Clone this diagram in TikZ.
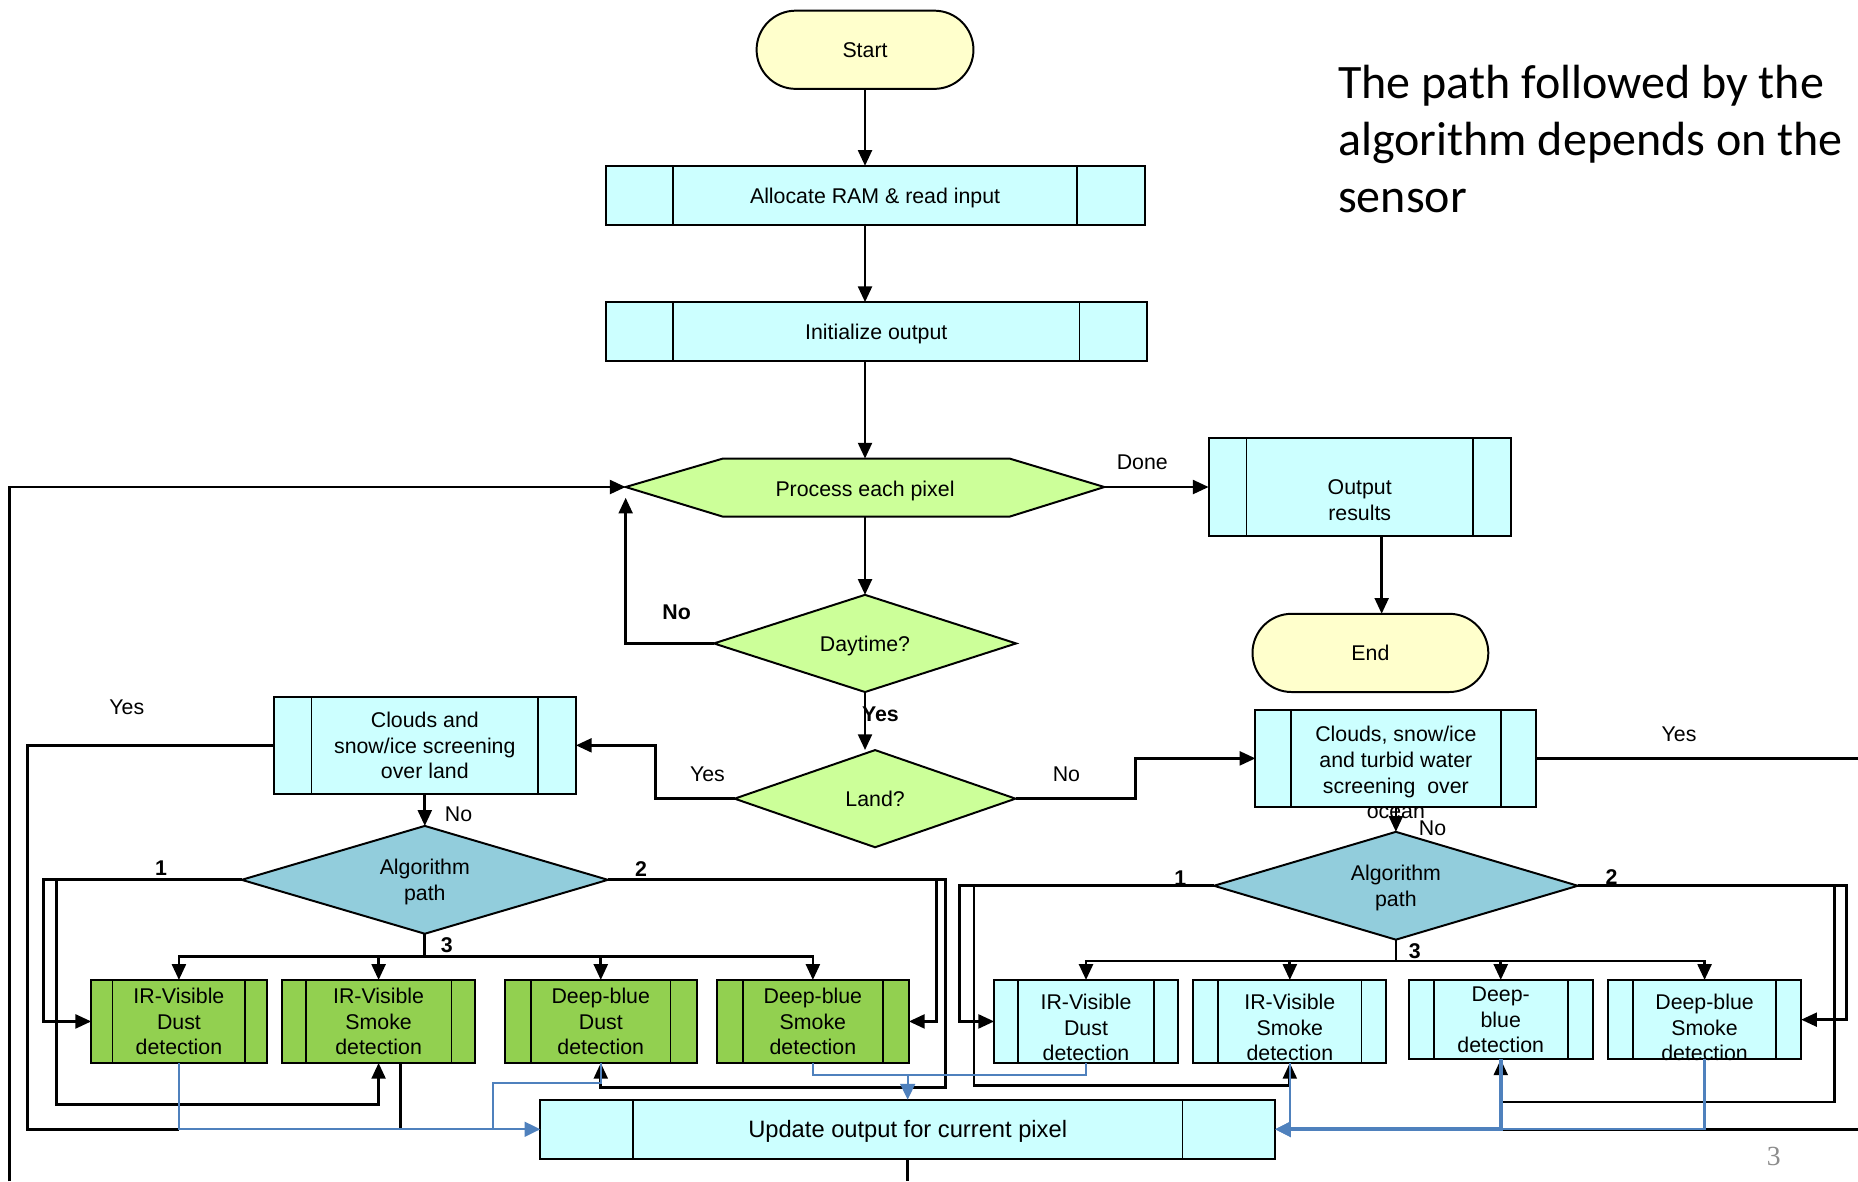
\documentclass[tikz,border=0pt]{standalone}
\usepackage{fontspec}
\setmainfont{Liberation Sans}
\newfontfamily\calib{Carlito}
\newfontfamily\serifpg{Liberation Serif}
\usetikzlibrary{shapes.geometric, arrows.meta}
\definecolor{termfill}{HTML}{FFFFCC}
\definecolor{procfill}{HTML}{CCFFFF}
\definecolor{decfill}{HTML}{CCFF99}
\definecolor{algfill}{HTML}{92CDDC}
\definecolor{grnfill}{HTML}{92D050}
\definecolor{bluel}{HTML}{4F81BD}
\newcommand\boxfont{\fontsize{10.8}{13}\selectfont}
\newcommand\updfont{\fontsize{12}{14}\selectfont}
\newcommand\sbars[2]{\draw[barline] ([xshift=#2*0.6pt]#1.north west) -- ([xshift=#2*0.6pt]#1.south west) ([xshift=-#2*0.6pt]#1.north east) -- ([xshift=-#2*0.6pt]#1.south east);}
\tikzset{
  wh/.style 2 args={minimum width=#1*0.6pt, minimum height=#2*0.6pt},
  term/.style={draw, fill=termfill, rounded corners=19.8pt, line width=1pt, outer sep=0pt, inner sep=0pt, text depth=0pt, font=\boxfont},
  procbox/.style={draw, fill=procfill, line width=1pt, outer sep=0pt, inner sep=0pt, text depth=0pt, align=center, font=\boxfont},
  grnbox/.style={procbox, fill=grnfill},
  dec/.style={diamond, draw, fill=decfill, line width=1pt, inner sep=0pt, outer sep=0pt, aspect=3, text depth=0pt, align=center, font=\boxfont},
  barline/.style={line width=0.8pt},
  txt/.style={align=center, font=\boxfont, inner sep=0pt, text depth=0pt},
  lbl/.style={font=\boxfont, inner sep=0pt},
  blbl/.style={font=\boxfont\bfseries, inner sep=0pt},
  ln/.style={line width=1.4pt},
  arr/.style={ln, -{Triangle[length=8pt,width=7pt]}},
  bl/.style={draw=bluel, line width=1.1pt},
  barr/.style={bl, -{Triangle[length=8pt,width=7.5pt]}, bluel}
}
\begin{document}
\begin{tikzpicture}[x=0.6pt,y=-0.6pt]
\useasboundingbox (0,0) rectangle (1568,997);
\fill[white] (0,0) rectangle (1568,997);

% hexagon "Process each pixel"
\coordinate (procL) at (528,411);
\coordinate (procR) at (932,411);
\coordinate (procT) at (730,387);
\coordinate (procB) at (730,436);
\draw[line width=1pt, fill=decfill] (procL) -- (610,387) -- (852,387) -- (procR) -- (852,436) -- (610,436) -- cycle;
\node[txt] (proc) at (730,412.5) {Process each pixel};

% nodes
\node[term, wh={183}{66}] (start) at (730,42) {Start};
\node[procbox, wh={455}{50}] (alloc) at (738.5,165) {Allocate RAM \& read input};
\node[procbox, wh={457}{50}] (init) at (739.5,280) {Initialize output};
\node[procbox, wh={255}{82}] (outres) at (1147.5,411) {};
\node[term, wh={199}{66}] (end) at (1156.5,551) {End};
\node[dec, wh={255}{82}] (day) at (730,543) {Daytime?};
\node[dec, wh={237}{82}] (land) at (738.5,674) {Land?};
\node[procbox, wh={255}{82}] (cland) at (358.5,629) {Clouds and\\snow/ice screening\\over land};
\node[dec, fill=algfill, wh={309}{91}] (apl) at (358.5,742.5) {Algorithm\\path};
\node[grnbox, wh={148}{70}] (g1) at (151,862) {IR-Visible\\Dust\\detection};
\node[grnbox, wh={163}{70}] (g2) at (319.5,862) {IR-Visible\\Smoke\\detection};
\node[grnbox, wh={162}{70}] (g3) at (507,862) {Deep-blue\\Dust\\detection};
\node[grnbox, wh={162}{70}] (g4) at (686,862) {Deep-blue\\Smoke\\detection};
\node[procbox, wh={620}{50}, font=\updfont] (update) at (766,953) {Update output for current pixel};
\node[procbox, wh={237}{82}] (cocean) at (1178,640) {};
\node[dec, fill=algfill, wh={307}{91}] (apr) at (1178,747.5) {Algorithm\\path};
\node[procbox, wh={155}{70}] (o1) at (916.5,862) {};
\node[procbox, wh={163}{70}] (o2) at (1088.5,862) {};
\node[procbox, wh={155}{67}] (o3) at (1266.5,860.5) {Deep-\\blue\\detection};
\node[procbox, wh={163}{67}] (o4) at (1438.5,860.5) {};

% side bars
\sbars{alloc}{57}
\sbars{init}{57}
\sbars{outres}{32}
\sbars{cland}{32}
\sbars{g1}{18}
\sbars{g2}{20}
\sbars{g3}{22}
\sbars{g4}{22}
\sbars{update}{78}
\sbars{cocean}{30}
\sbars{o1}{20}
\sbars{o2}{21}
\sbars{o3}{21}
\sbars{o4}{21}

% texts placed off-centre
\node[txt] (outrest) at (1147.5,422) {Output\\results};
\node[txt] (coceant) at (1178,652) {Clouds, snow/ice\\and turbid water\\screening\ \ over\\ocean};
\node[txt] (o1t) at (916.5,867) {IR-Visible\\Dust\\detection};
\node[txt] (o2t) at (1088.5,867) {IR-Visible\\Smoke\\detection};
\node[txt] (o4t) at (1438.5,867) {Deep-blue\\Smoke\\detection};

% main spine
\draw[arr] (start.south) -- (start.south |- alloc.north);
\draw[arr] (start.south |- alloc.south) -- (start.south |- init.north);
\draw[arr] (start.south |- init.south) -- (procT);
\draw[arr] (procB) -- (day.north);
\draw[arr] (procR) -- (outres.west);
\draw[arr] ([xshift=11.1pt]outres.south) -- ([xshift=11.1pt]outres.south |- end.north);
\draw[arr] (day.west) -| ([yshift=-5.4pt]procL);
\draw[arr] (day.south) -- (land.north -| day.south);
\draw[arr] (land.west) -- ++(-67,0) |- (cland.east);
\draw[arr] (land.east) -- ++(101,0) |- (cocean.west);

% land branch
\draw[ln] (cland.west) -| (23,953) -- (g1.south |- update.west);
\draw[arr] (cland.south) -- (apl.north);
\draw[arr] (apl.west) -- (37,742.5) |- (g1.west);
\draw[arr] (apl.west) -| (48,932) -| (g2.south);
\draw[arr] (apl.east) -- (790,742.5) |- (g4.east);
\draw[arr] (apl.east) -| (798,918) -| (g3.south);
\foreach \g in {g1,g2,g3,g4} \draw[arr] (apl.south) -- ++(0,19) -| (\g.north);
\draw[ln] ([xshift=11.1pt]g2.south) -- ([xshift=11.1pt]g2.south |- update.west);

% ocean branch
\draw[ln] (cocean.east) -- (1568,640);
\draw[arr] (cocean.south) -- (apr.north);
\draw[arr] (apr.west) -- (810,747.5) |- (o1.west);
\draw[arr] (apr.west) -| (822,916) -| (o2.south);
\draw[arr] (apr.east) -- (1558,747.5) |- (o4.east);
\draw[arr] (apr.east) -| (1548,930) -| (o3.south);
\foreach \o in {o1,o2,o3,o4} \draw[arr] (apr.south) -- ++(0,18) -| (\o.north);
\draw[ln] (1568,953) -- (o3.south |- update.east);

% outer loop
\draw[ln] (update.south) -- (766,997);
\draw[arr] (8,997) |- (procL);

% blue output lines
\draw[barr] (g1.south) |- (update.west);
\draw[bl] (g3.south) -- ++(0,17) -| (416,953);
\draw[bl] (g4.south) -- ++(0,10) -| (o1.south);
\coordinate (bj) at (766,907);
\draw[barr] (bj) -- (update.north);
\draw[barr] (o2.south) |- (update.east);
\draw[barr, line width=2pt] (o3.south) |- (update.east);
\draw[bl] (o4.south) |- (o3.south |- update.east);

% labels
\node[lbl] (ldone) at (964,390) {Done};
\node[blbl] (lno1) at (571,517) {No};
\node[blbl] (lyes1) at (743,603) {Yes};
\node[lbl] (lyes2) at (597,653) {Yes};
\node[lbl] (lno2) at (900,653) {No};
\node[lbl] (lyes3) at (107,597) {Yes};
\node[lbl] (lno3) at (387,687) {No};
\node[blbl] (l1a) at (136,733) {1};
\node[blbl] (l2a) at (541,733) {2};
\node[blbl] (l3a) at (377,798) {3};
\node[lbl] (lyes4) at (1417,620) {Yes};
\node[lbl] (lno4) at (1209,699) {No};
\node[blbl] (l1b) at (996,741) {1};
\node[blbl] (l2b) at (1360,740) {2};
\node[blbl] (l3b) at (1194,803) {3};

% title and page number
\node[anchor=north west, align=left, inner sep=0pt, font=\calib\fontsize{24.3}{28.8}\selectfont] (title) at (1129,55) {The path followed by the\\algorithm depends on the\\sensor};
\node[inner sep=0pt, font=\serifpg\fontsize{14}{14}\selectfont, text=black!45] (pgno) at (1497,976) {3};
\end{tikzpicture}
\end{document}
